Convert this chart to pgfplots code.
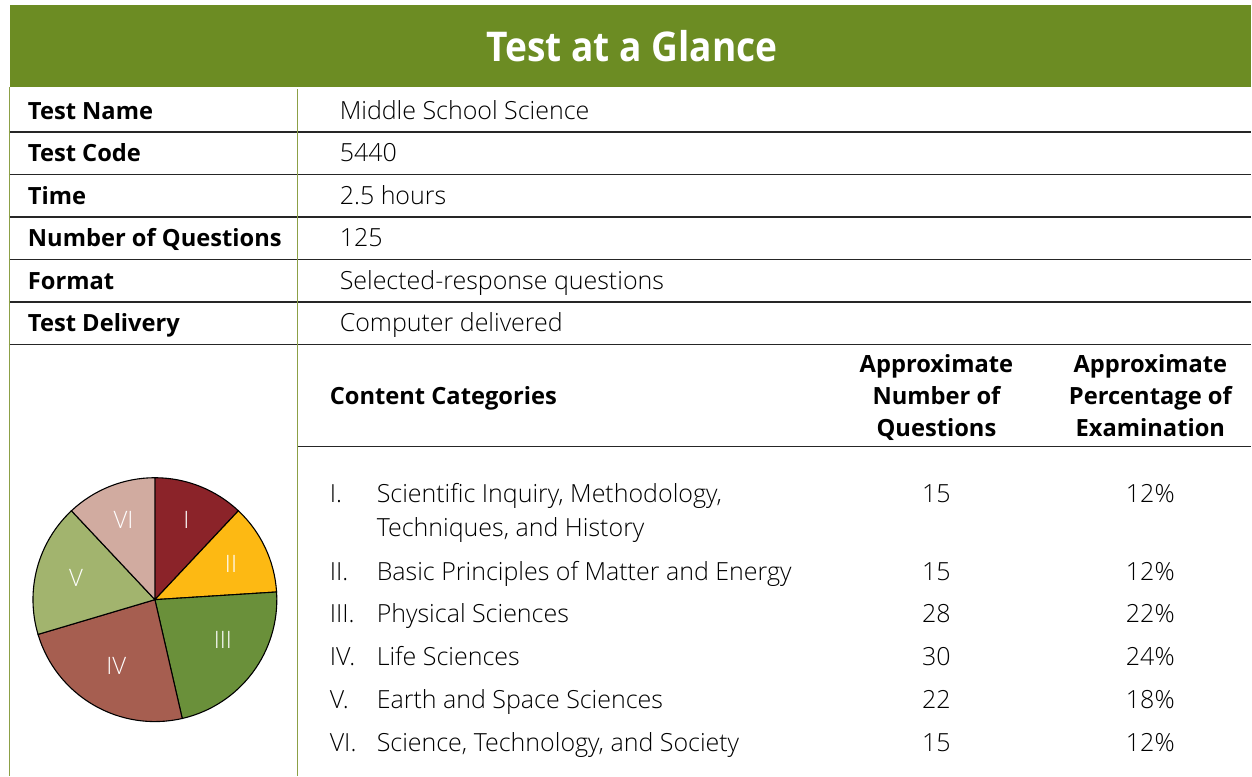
\documentclass[border=0pt]{standalone}
\usepackage{pgfplots}
\pgfplotsset{compat=1.18}
\usepackage{graphicx}
\usepackage{fontspec}
\setmainfont{Open Sans Light}[BoldFont={Open Sans Bold}]
\definecolor{hdr}{RGB}{108,140,35}
\definecolor{bord}{RGB}{140,160,70}
\definecolor{cI}{RGB}{139,35,41}
\definecolor{cII}{RGB}{253,185,19}
\definecolor{cIII}{RGB}{106,144,58}
\definecolor{cIV}{RGB}{166,94,80}
\definecolor{cV}{RGB}{162,180,110}
\definecolor{cVI}{RGB}{209,171,160}
\newcommand{\fs}{\fontsize{25}{28}\selectfont}
\newcommand{\fb}{\fontsize{23.7}{28}\selectfont\bfseries}
\newcommand{\fl}{\fontsize{24}{26}\selectfont}
\begin{document}
\begin{tikzpicture}
\begin{scope}[x=1pt,y=-1pt,every node/.style={inner sep=0pt,outer sep=0pt}]
\path (0,0) rectangle (1252,776);
\fill[hdr] (10,5) rectangle (1252,87);
\node[white,font={\fontsize{41}{44}\selectfont\bfseries}] at (632.5,46) {\scalebox{0.905}[1]{Test at a Glance}};
% lines
\foreach \yy in {132,174.5,217,259.5,302,344.5}{\draw[line width=1.5pt,black!85] (9,\yy) -- (1252,\yy);}
\draw[line width=1.5pt,black!85] (298,447) -- (1252,447);
\draw[line width=1.3pt,bord] (9.5,87) -- (9.5,776);
\draw[line width=1.3pt,bord] (298,89) -- (298,776);
% left column
\foreach \yy/\t in {120/Test Name,162/Test Code,205/Time,247/Number of Questions,290/Format,332/Test Delivery}{\node[anchor=base west,font=\fb] at (28,\yy) {\t};}
\foreach \yy/\t in {120/Middle School Science,162/5440,205/2.5 hours,247/125,290/Selected-response questions,332/Computer delivered}{\node[anchor=base west,font=\fs] at (340,\yy) {\t};}
\node[anchor=base west,font=\fb] at (330,405) {Content Categories};
\foreach \yy/\a/\b in {373/Approximate/Approximate,405/Number of/Percentage of,437/Questions/Examination}{
 \node[anchor=base,font=\fb] at (937,\yy) {\a};
 \node[anchor=base,font=\fb] at (1151,\yy) {\b};}
\foreach \yy/\r/\t/\n/\p in {503/I./{Scientific Inquiry, Methodology,}/15/12\%,581/II./Basic Principles of Matter and Energy/15/12\%,623/III./Physical Sciences/28/22\%,666/IV./Life Sciences/30/24\%,709/V./Earth and Space Sciences/22/18\%,752/VI./{Science, Technology, and Society}/15/12\%}{
 \node[anchor=base west,font=\fs] at (330,\yy) {\r};
 \node[anchor=base west,font=\fs] at (377,\yy) {\t};
 \node[anchor=base,font=\fs] at (937,\yy) {\n};
 \node[anchor=base,font=\fs] at (1151,\yy) {\p};}
\node[anchor=base west,font=\fs] at (377,537) {Techniques, and History};
\end{scope}
\begin{axis}[at={(155pt,-600pt)},anchor=center,width=244pt,height=244pt,scale only axis,hide axis,
  xmin=-1,xmax=1,ymin=-1,ymax=1,clip=false]
\addplot[draw=none] coordinates {(-1,-1) (1,1)};
% question counts: 15,15,28,30,22,15 of 125 (2.88 degrees per question)
\filldraw[fill=cI,draw=black,line width=1.1pt] (axis cs:0,0) -- (axis cs:{cos(90)},{sin(90)}) arc[start angle=90,end angle={90-2.88*15},radius=122pt] -- cycle;
\filldraw[fill=cII,draw=black,line width=1.1pt] (axis cs:0,0) -- (axis cs:{cos(90-2.88*15)},{sin(90-2.88*15)}) arc[start angle={90-2.88*15},end angle={90-2.88*30},radius=122pt] -- cycle;
\filldraw[fill=cIII,draw=black,line width=1.1pt] (axis cs:0,0) -- (axis cs:{cos(90-2.88*30)},{sin(90-2.88*30)}) arc[start angle={90-2.88*30},end angle={90-2.88*58},radius=122pt] -- cycle;
\filldraw[fill=cIV,draw=black,line width=1.1pt] (axis cs:0,0) -- (axis cs:{cos(90-2.88*58)},{sin(90-2.88*58)}) arc[start angle={90-2.88*58},end angle={90-2.88*88},radius=122pt] -- cycle;
\filldraw[fill=cV,draw=black,line width=1.1pt] (axis cs:0,0) -- (axis cs:{cos(90-2.88*88)},{sin(90-2.88*88)}) arc[start angle={90-2.88*88},end angle={90-2.88*110},radius=122pt] -- cycle;
\filldraw[fill=cVI,draw=black,line width=1.1pt] (axis cs:0,0) -- (axis cs:{cos(90-2.88*110)},{sin(90-2.88*110)}) arc[start angle={90-2.88*110},end angle={90-2.88*125},radius=122pt] -- cycle;
\node[white,font=\fl] at (axis cs:{0.70*cos(90-2.88*7.5)},{0.70*sin(90-2.88*7.5)}) {I};
\node[white,font=\fl] at (axis cs:{0.69*cos(90-2.88*22.5)},{0.69*sin(90-2.88*22.5)}) {II};
\node[white,font=\fl] at (axis cs:{0.65*cos(90-2.88*42)},{0.65*sin(90-2.88*42)}) {III};
\node[white,font=\fl] at (axis cs:{0.63*cos(90-2.88*73)},{0.63*sin(90-2.88*73)}) {IV};
\node[white,font=\fl] at (axis cs:{0.67*cos(90-2.88*99)},{0.67*sin(90-2.88*99)}) {V};
\node[white,font=\fl] at (axis cs:{0.70*cos(90-2.88*117.5)},{0.70*sin(90-2.88*117.5)}) {VI};
\end{axis}
\end{tikzpicture}
\end{document}
